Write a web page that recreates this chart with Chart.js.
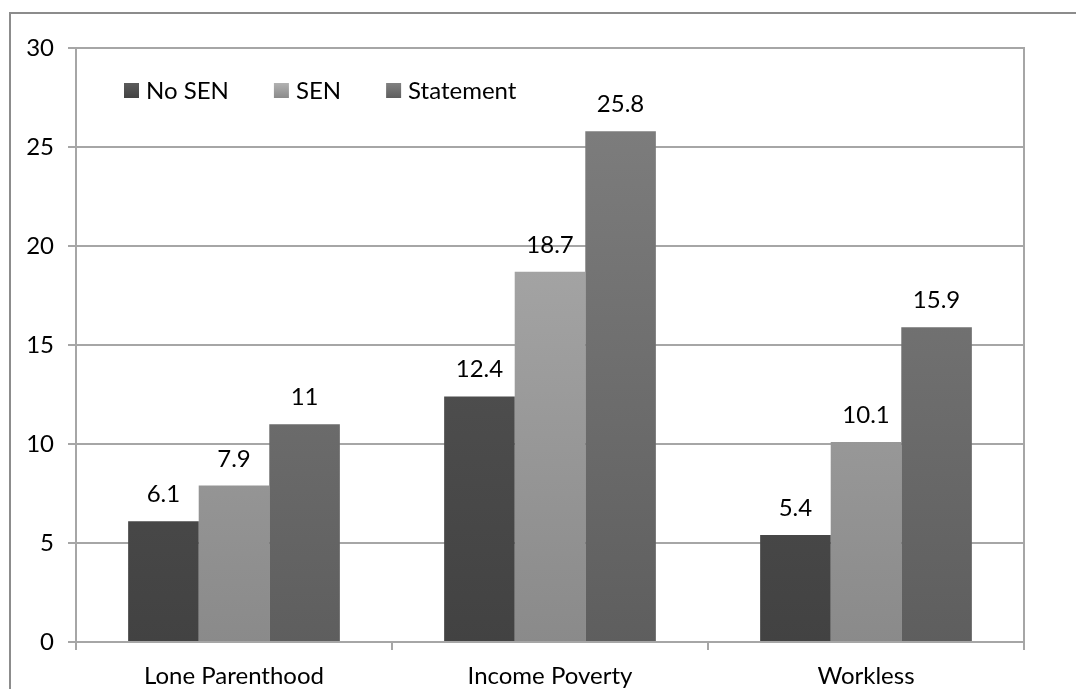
<!DOCTYPE html>
<html>
<head>
<meta charset="utf-8">
<script src="https://cdn.jsdelivr.net/npm/chart.js@4"></script>
<style>
  html, body { margin: 0; padding: 0; background: #fff; overflow: hidden; }
  #wrap { position: relative; width: 1076px; height: 689px; }
  #frame {
    position: absolute; left: 9px; top: 12px; width: 1200px; height: 800px;
    border: 2px solid #8c8c8c; box-sizing: border-box;
  }
  canvas { position: absolute; left: 0; top: 0; }
</style>
</head>
<body>
<div id="wrap">
  <div id="frame"></div>
  <canvas id="chart" width="1076" height="689"></canvas>
</div>
<script>
const categories = ['Lone Parenthood', 'Income Poverty', 'Workless'];
const noSen = [6.1, 12.4, 5.4];
const sen = [7.9, 18.7, 10.1];
const statement = [11, 25.8, 15.9];
const yTicks = [0, 5, 10, 15, 20, 25, 30];

const FONT = 'Lato, "Open Sans", sans-serif';

// vertical gradient per series (top colour, bottom colour)
const shades = {
  'No SEN': ['#5c5c5c', '#424242'],
  'SEN': ['#b2b2b2', '#8a8a8a'],
  'Statement': ['#818181', '#5e5e5e']
};

function gradFill(name) {
  return ctx => {
    const chart = ctx.chart;
    const area = chart.chartArea;
    if (!area) return shades[name][0];
    const g = chart.ctx.createLinearGradient(0, area.top, 0, area.bottom);
    g.addColorStop(0, shades[name][0]);
    g.addColorStop(1, shades[name][1]);
    return g;
  };
}

// value labels above bars
const valueLabels = {
  id: 'valueLabels',
  afterDatasetsDraw(chart) {
    const c = chart.ctx;
    c.save();
    c.font = '24px ' + FONT;
    c.fillStyle = '#000';
    c.textAlign = 'center';
    c.textBaseline = 'alphabetic';
    chart.data.datasets.forEach((ds, i) => {
      chart.getDatasetMeta(i).data.forEach((bar, j) => {
        c.fillText(String(ds.data[j]), bar.x, bar.y - 19);
      });
    });
    c.restore();
  }
};

// plot-area border (top and right) plus legend inside the plot
const plotExtras = {
  id: 'plotExtras',
  afterDraw(chart) {
    const c = chart.ctx;
    const a = chart.chartArea;
    c.save();
    c.strokeStyle = '#a6a6a6';
    c.lineWidth = 2;
    c.beginPath();
    c.moveTo(a.left, a.top);
    c.lineTo(a.right, a.top);
    c.lineTo(a.right, a.bottom);
    c.stroke();

    c.font = '24px ' + FONT;
    c.textBaseline = 'alphabetic';
    let x = a.left + 48;
    const sq = 15;
    chart.data.datasets.forEach(ds => {
      const g = c.createLinearGradient(0, 83, 0, 83 + sq);
      g.addColorStop(0, shades[ds.label][0]);
      g.addColorStop(1, shades[ds.label][1]);
      c.fillStyle = g;
      c.fillRect(x, 83, sq, sq);
      c.fillStyle = '#000';
      c.fillText(ds.label, x + sq + 7, 99);
      x += sq + 7 + c.measureText(ds.label).width + 45;
    });
    c.restore();
  }
};

new Chart(document.getElementById('chart'), {
  type: 'bar',
  data: {
    labels: categories,
    datasets: [
      { label: 'No SEN', data: noSen, backgroundColor: gradFill('No SEN') },
      { label: 'SEN', data: sen, backgroundColor: gradFill('SEN') },
      { label: 'Statement', data: statement, backgroundColor: gradFill('Statement') }
    ]
  },
  options: {
    responsive: false,
    animation: false,
    events: [],
    layout: { padding: { top: 48, right: 52, left: 0, bottom: 0 } },
    datasets: { bar: { categoryPercentage: 0.67, barPercentage: 1 } },
    plugins: { legend: { display: false }, tooltip: { enabled: false } },
    scales: {
      x: {
        grid: { offset: true, drawOnChartArea: false, drawTicks: true, tickLength: 8, color: '#a6a6a6', lineWidth: 2 },
        border: { color: '#a6a6a6', width: 2 },
        ticks: { color: '#000', font: { family: FONT, size: 24 }, padding: 12 },
        afterFit(scale) { scale.height = 47; }
      },
      y: {
        min: 0, max: 30,
        afterBuildTicks(scale) { scale.ticks = yTicks.map(v => ({ value: v })); },
        grid: { color: '#a6a6a6', lineWidth: 2, tickLength: 8 },
        border: { color: '#a6a6a6', width: 2 },
        ticks: { color: '#000', font: { family: FONT, size: 24 }, padding: 14 },
        afterFit(scale) { scale.width = 76; }
      }
    }
  },
  plugins: [valueLabels, plotExtras]
});
</script>
</body>
</html>
